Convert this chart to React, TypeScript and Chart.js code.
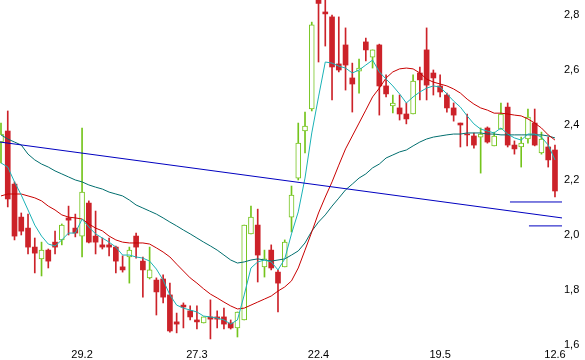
import React, { useEffect, useRef } from 'react';
import { Chart, registerables } from 'chart.js';

Chart.register(...registerables);

// x tick positions (candle index) and labels
const xTickIndex = [12, 29, 47, 65, 82];
const xTickLabels = ['29.2', '27.3', '22.4', '19.5', '12.6'];
const yTickValues = [1.6, 1.8, 2.0, 2.2, 2.4, 2.6, 2.8];

const openP = [
  2.338, 2.378, 2.185, 2.065, 2.025, 1.956, 1.913, 1.945, 1.974, 1.982,
  2.062, 2.025, 1.996, 2.116, 1.996, 1.964, 1.964, 1.956, 1.884, 1.920,
  1.996, 1.905, 1.844, 1.836, 1.840, 1.782, 1.684, 1.745, 1.724, 1.691,
  1.680, 1.702, 1.702, 1.702, 1.680, 1.662, 1.691, 2.004, 2.036, 1.884,
  1.945, 1.865, 1.884, 2.065, 2.207, 2.378, 2.458, 2.870, 2.811, 2.793,
  2.622, 2.691, 2.571, 2.596, 2.702, 2.647, 2.691, 2.542, 2.469, 2.462,
  2.440, 2.440, 2.589, 2.673, 2.589, 2.542, 2.509, 2.462, 2.407, 2.367,
  2.360, 2.356, 2.389, 2.324, 2.385, 2.465, 2.327, 2.320, 2.349, 2.407,
  2.298, 2.320, 2.309,
];
const highP = [
  2.407, 2.451, 2.193, 2.080, 2.076, 1.989, 1.974, 1.949, 2.014, 2.040,
  2.105, 2.076, 2.389, 2.124, 2.087, 1.989, 1.989, 1.960, 1.924, 1.956,
  2.007, 1.920, 1.956, 1.844, 1.855, 1.825, 1.716, 1.753, 1.742, 1.742,
  1.702, 1.764, 1.724, 1.734, 1.691, 1.720, 2.036, 2.105, 2.094, 1.945,
  1.964, 1.873, 1.982, 2.178, 2.407, 2.447, 2.774, 2.880, 2.860, 2.800,
  2.793, 2.753, 2.625, 2.640, 2.716, 2.673, 2.694, 2.582, 2.509, 2.509,
  2.480, 2.582, 2.611, 2.753, 2.600, 2.582, 2.516, 2.480, 2.407, 2.440,
  2.371, 2.389, 2.393, 2.374, 2.480, 2.480, 2.342, 2.356, 2.458, 2.458,
  2.374, 2.356, 2.327,
];
const lowP = [
  2.262, 2.102, 1.982, 2.000, 1.931, 1.862, 1.851, 1.880, 1.931, 1.964,
  2.000, 1.993, 1.920, 1.971, 1.931, 1.949, 1.924, 1.862, 1.865, 1.825,
  1.916, 1.774, 1.840, 1.709, 1.753, 1.647, 1.644, 1.662, 1.691, 1.658,
  1.680, 1.622, 1.662, 1.658, 1.658, 1.629, 1.691, 2.004, 1.829, 1.847,
  1.873, 1.720, 1.884, 2.011, 2.200, 2.298, 2.451, 2.629, 2.687, 2.491,
  2.593, 2.527, 2.447, 2.516, 2.633, 2.607, 2.436, 2.502, 2.444, 2.418,
  2.404, 2.440, 2.491, 2.491, 2.509, 2.502, 2.447, 2.414, 2.320, 2.324,
  2.316, 2.225, 2.334, 2.324, 2.385, 2.320, 2.294, 2.247, 2.334, 2.324,
  2.294, 2.247, 2.138,
];
const closeP = [
  2.367, 2.131, 1.996, 2.014, 1.956, 1.934, 1.945, 1.905, 1.956, 2.036,
  2.054, 2.007, 2.156, 1.974, 1.974, 1.956, 1.956, 1.905, 1.873, 1.945,
  1.956, 1.873, 1.873, 1.793, 1.774, 1.651, 1.676, 1.738, 1.702, 1.684,
  1.702, 1.694, 1.694, 1.676, 1.662, 1.720, 2.036, 2.065, 1.927, 1.913,
  1.880, 1.825, 1.974, 2.145, 2.334, 2.396, 2.764, 2.842, 2.804, 2.611,
  2.600, 2.618, 2.549, 2.607, 2.673, 2.673, 2.542, 2.513, 2.480, 2.440,
  2.422, 2.560, 2.564, 2.545, 2.571, 2.520, 2.462, 2.436, 2.400, 2.364,
  2.327, 2.367, 2.338, 2.360, 2.440, 2.327, 2.313, 2.334, 2.429, 2.327,
  2.349, 2.273, 2.160,
];

// moving averages
const maFast = [
  2.262, 2.247, 2.193, 2.145, 2.091, 2.036, 1.996, 1.967, 1.960, 1.982,
  2.007, 2.007, 2.058, 2.029, 2.004, 1.989, 1.974, 1.956, 1.927, 1.927,
  1.920, 1.916, 1.905, 1.876, 1.836, 1.782, 1.745, 1.734, 1.727, 1.720,
  1.705, 1.702, 1.698, 1.691, 1.676, 1.691, 1.782, 1.880, 1.902, 1.909,
  1.902, 1.873, 1.913, 2.004, 2.084, 2.207, 2.371, 2.502, 2.629, 2.625,
  2.614, 2.607, 2.589, 2.600, 2.618, 2.636, 2.593, 2.567, 2.542, 2.513,
  2.480, 2.502, 2.520, 2.534, 2.542, 2.538, 2.513, 2.487, 2.465, 2.433,
  2.404, 2.385, 2.378, 2.371, 2.389, 2.367, 2.353, 2.345, 2.367, 2.367,
  2.356, 2.327, 2.273,
];
const maMid = [
  2.142, 2.149, 2.149, 2.149, 2.142, 2.135, 2.124, 2.105, 2.091, 2.073,
  2.065, 2.062, 2.058, 2.040, 2.025, 2.015, 1.996, 1.982, 1.974, 1.971,
  1.971, 1.971, 1.967, 1.953, 1.938, 1.920, 1.894, 1.869, 1.844, 1.825,
  1.804, 1.785, 1.771, 1.756, 1.742, 1.731, 1.734, 1.745, 1.756, 1.767,
  1.778, 1.796, 1.811, 1.833, 1.880, 1.945, 2.011, 2.080, 2.138, 2.193,
  2.254, 2.313, 2.360, 2.407, 2.454, 2.502, 2.534, 2.571, 2.593, 2.604,
  2.607, 2.604, 2.589, 2.567, 2.556, 2.549, 2.542, 2.531, 2.516, 2.494,
  2.476, 2.462, 2.454, 2.443, 2.443, 2.440, 2.436, 2.433, 2.422, 2.407,
  2.389, 2.364, 2.345,
];
const maSlow = [
  2.364, 2.349, 2.338, 2.327, 2.294, 2.273, 2.258, 2.247, 2.233, 2.222,
  2.211, 2.200, 2.193, 2.182, 2.174, 2.167, 2.156, 2.149, 2.142, 2.127,
  2.109, 2.098, 2.087, 2.076, 2.062, 2.047, 2.033, 2.018, 2.004, 1.989,
  1.974, 1.960, 1.945, 1.927, 1.909, 1.898, 1.902, 1.909, 1.913, 1.909,
  1.905, 1.909, 1.913, 1.927, 1.942, 1.971, 2.014, 2.047, 2.073, 2.105,
  2.134, 2.164, 2.185, 2.207, 2.222, 2.244, 2.258, 2.280, 2.291, 2.302,
  2.309, 2.324, 2.338, 2.349, 2.356, 2.360, 2.364, 2.367, 2.367, 2.371,
  2.371, 2.371, 2.367, 2.367, 2.364, 2.364, 2.364, 2.364, 2.364, 2.364,
  2.364, 2.360, 2.353,
];

// visible index range of the x axis
const X_MIN = -0.148;
const X_MAX = 83.04;
const Y_MIN = 1.589;
const Y_MAX = 2.8545;

// trend line and two level lines
const trendX = [-0.148, 83.04];
const trendY = [2.338, 2.062];
const levelUpperX = [75.34, 83.04];
const levelUpperY = [2.12, 2.12];
const levelLowerX = [78.15, 83.04];
const levelLowerY = [2.033, 2.033];

const RED = '#cc2229';
const GREEN = '#74c41c';
const FONT = { family: '"Liberation Sans", Arial, sans-serif', size: 11 };

export default function App() {
  const ref = useRef<HTMLCanvasElement>(null);

  useEffect(() => {
    if (!ref.current) return;
    const idx = openP.map((_, i) => i);
    const up = idx.map((i) => closeP[i] >= openP[i]);

    const chart = new Chart(ref.current, {
      type: 'bar',
      data: {
        datasets: [
          {
            type: 'bar',
            data: idx.map((i) => ({ x: i, y: [lowP[i], highP[i]] })) as any,
            backgroundColor: up.map((u) => (u ? GREEN : RED)),
            borderWidth: 0,
            barThickness: 1,
            grouped: false,
            order: 10,
          } as any,
          {
            type: 'bar',
            data: idx.map((i) => ({ x: i, y: [openP[i], closeP[i]] })) as any,
            backgroundColor: up.map((u) => (u ? '#ffffff' : RED)),
            borderColor: up.map((u) => (u ? GREEN : RED)),
            borderWidth: up.map((u) => (u ? 1 : 0)),
            borderSkipped: false,
            barThickness: 5,
            grouped: false,
            order: 9,
          } as any,
          {
            type: 'line',
            data: idx.map((i) => ({ x: i, y: maSlow[i] })),
            borderColor: '#006e6e',
            borderWidth: 1,
            pointRadius: 0,
            order: 5,
          } as any,
          {
            type: 'line',
            data: idx.map((i) => ({ x: i, y: maMid[i] })),
            borderColor: '#c80000',
            borderWidth: 1,
            pointRadius: 0,
            order: 4,
          } as any,
          {
            type: 'line',
            data: idx.map((i) => ({ x: i, y: maFast[i] })),
            borderColor: '#1ab2b6',
            borderWidth: 1,
            pointRadius: 0,
            order: 3,
          } as any,
          {
            type: 'line',
            data: trendX.map((x, k) => ({ x, y: trendY[k] })),
            borderColor: '#0000c0',
            borderWidth: 1,
            pointRadius: 0,
            order: 2,
          } as any,
          {
            type: 'line',
            data: levelUpperX.map((x, k) => ({ x, y: levelUpperY[k] })),
            borderColor: '#0000c0',
            borderWidth: 1,
            pointRadius: 0,
            order: 1,
          } as any,
          {
            type: 'line',
            data: levelLowerX.map((x, k) => ({ x, y: levelLowerY[k] })),
            borderColor: '#0000c0',
            borderWidth: 1,
            pointRadius: 0,
            order: 1,
          } as any,
        ],
      },
      options: {
        responsive: false,
        animation: false,
        devicePixelRatio: 1,
        layout: { padding: 0, autoPadding: false } as any,
        plugins: {
          legend: { display: false },
          tooltip: { enabled: false },
        },
        scales: {
          x: {
            type: 'linear',
            min: X_MIN,
            max: X_MAX,
            offset: false,
            grid: { display: false, drawTicks: false, tickLength: 0 },
            border: { display: false },
            ticks: {
              autoSkip: false,
              maxRotation: 0,
              padding: 0,
              color: '#000',
              font: FONT,
              callback: (v: any) => {
                const k = xTickIndex.indexOf(Number(v));
                return k >= 0 ? xTickLabels[k] : '';
              },
            },
            afterBuildTicks: (s: any) => {
              s.ticks = xTickIndex.map((v) => ({ value: v }));
            },
            afterFit: (s: any) => {
              s.height = 12;
              s.paddingLeft = 0;
              s.paddingRight = 0;
            },
          } as any,
          y: {
            type: 'linear',
            position: 'right',
            min: Y_MIN,
            max: Y_MAX,
            grid: { display: false, drawTicks: false, tickLength: 0 },
            border: { display: false },
            ticks: {
              padding: 2,
              color: '#000',
              font: FONT,
              callback: (v: any) => Number(v).toFixed(1).replace('.', ','),
            },
            afterBuildTicks: (s: any) => {
              s.ticks = yTickValues.map((v) => ({ value: v }));
            },
            afterFit: (s: any) => {
              s.width = 23;
              s.paddingTop = 0;
              s.paddingBottom = 0;
            },
          } as any,
        },
      } as any,
    });
    return () => chart.destroy();
  }, []);

  return (
    <div style={{ position: 'fixed', left: 0, top: 0, width: 585, height: 360, background: '#fff' }}>
      <canvas ref={ref} width={585} height={360} style={{ display: 'block', width: 585, height: 360 }} />
    </div>
  );
}
